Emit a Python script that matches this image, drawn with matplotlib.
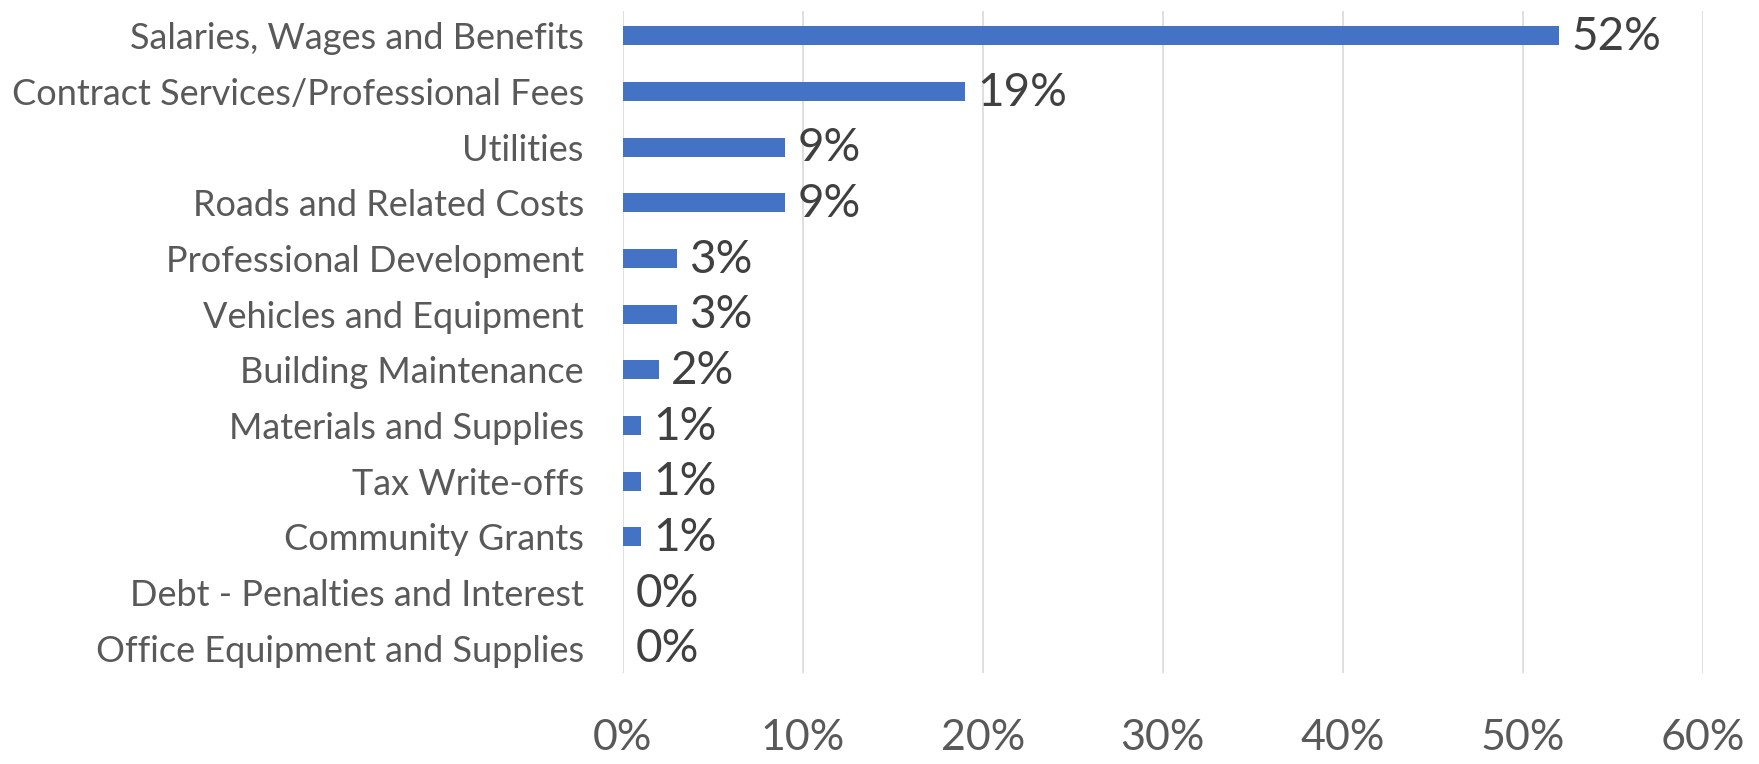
import matplotlib
matplotlib.use("Agg")
import matplotlib.pyplot as plt
from matplotlib.ticker import FuncFormatter

# ---------------------------------------------------------------------------
# Data — share of expenses by category (top to bottom as shown)
# ---------------------------------------------------------------------------
categories = [
    "Salaries, Wages and Benefits",
    "Contract Services/Professional Fees",
    "Utilities",
    "Roads and Related Costs",
    "Professional Development",
    "Vehicles and Equipment",
    "Building Maintenance",
    "Materials and Supplies",
    "Tax Write-offs",
    "Community Grants",
    "Debt - Penalties and Interest",
    "Office Equipment and Supplies",
]
shares = [0.52, 0.19, 0.09, 0.09, 0.03, 0.03, 0.02, 0.01, 0.01, 0.01, 0.0, 0.0]
x_ticks = [0.0, 0.1, 0.2, 0.3, 0.4, 0.5, 0.6]

BAR_COLOR = "#4472C4"
GRID_COLOR = "#D9D9D9"
AXIS_TEXT = "#595959"
LABEL_TEXT = "#404040"

plt.rcParams["font.family"] = ["Lato", "DejaVu Sans"]

fig = plt.figure(figsize=(17.59, 7.64), dpi=100)
ax = fig.add_axes([0.354, 0.119, 0.614, 0.867])

y = list(range(len(categories)))
ax.barh(y, shares, height=0.34, color=BAR_COLOR, zorder=3)

for yi, v in zip(y, shares):
    ax.annotate(f"{v:.0%}", xy=(v, yi), xytext=(9, -1), textcoords="offset points",
                ha="left", va="center", fontsize=33, color=LABEL_TEXT)

ax.set_xlim(0, 0.6)
ax.set_ylim(len(categories) - 0.55, -0.45)
ax.set_xticks(x_ticks)
ax.xaxis.set_major_formatter(FuncFormatter(lambda v, _: f"{v:.0%}"))
ax.set_yticks(y)
ax.set_yticklabels(categories)

ax.tick_params(axis="x", length=0, pad=33, labelsize=31, labelcolor=AXIS_TEXT)
ax.tick_params(axis="y", length=0, pad=28, labelsize=26, labelcolor=AXIS_TEXT)

ax.grid(axis="x", color=GRID_COLOR, lw=1.2, zorder=0)
for s in ax.spines.values():
    s.set_visible(False)

fig.savefig("out.png", dpi=100)
